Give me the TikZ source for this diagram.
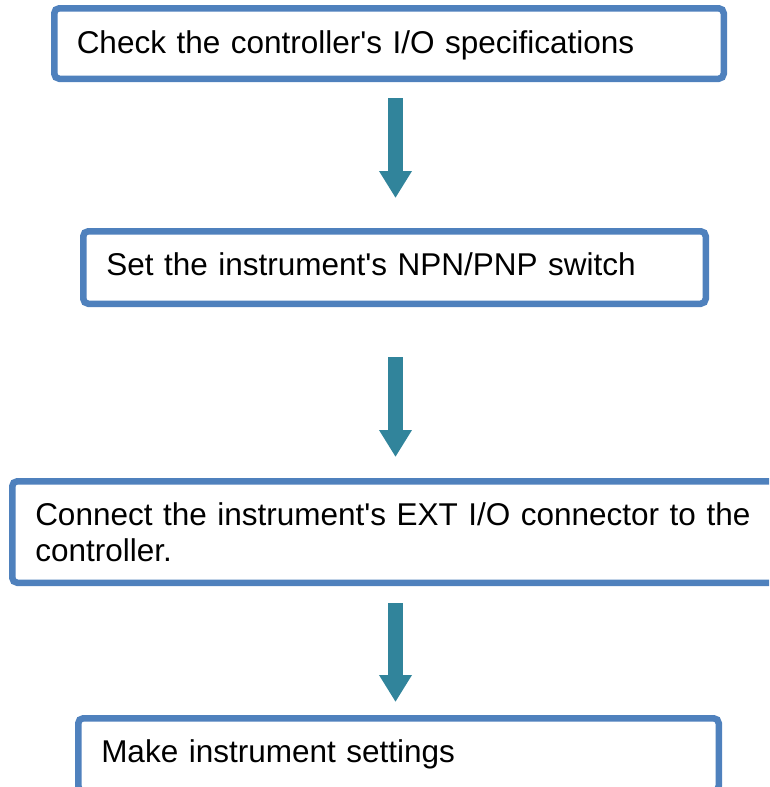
\documentclass[tikz,border=0pt]{standalone}
\usepackage{fontspec}
\setmainfont{Liberation Sans}[Ligatures=TeXOff]
\usetikzlibrary{arrows.meta}
\definecolor{boxblue}{HTML}{4F81BD}
\definecolor{arrowteal}{HTML}{31849B}
\begin{document}
\begin{tikzpicture}[x=1pt,y=-1pt,
  stepbox/.style={draw=boxblue, line width=6.5pt, rounded corners=5pt, fill=white,
    anchor=north west, outer sep=0pt, inner ysep=0pt, inner xsep=23pt, align=left,
    font=\fontsize{31.5}{36}\selectfont},
  flowarrow/.style={draw=arrowteal, line width=15.6pt, line cap=butt,
    -{Triangle[length=27pt,width=31pt]}}]
\path[use as bounding box, clip] (0,0) rectangle (769,787);

\node[stepbox, inner xsep=22.5pt, text width=624.5pt, minimum height=70.5pt,
  text height=27pt, text depth=8pt] (b1) at (54.25,8.25)
  {Check the controller's I/O specifications};
\node[stepbox, text width=576.5pt, minimum height=72.5pt,
  text height=23pt, text depth=8pt] (b2) at (83.25,231.25)
  {Set the instrument's NPN/PNP switch};
\node[stepbox, text width=730pt, minimum height=101.5pt,
  text height=24pt, text depth=38pt] (b3) at (12.25,481.25)
  {Connect the instrument's EXT I/O connector to the\\controller.};
\node[stepbox, text width=594.5pt, minimum height=72.75pt,
  text height=23pt, text depth=8pt] (b4) at (78.25,718.25)
  {Make instrument settings};

\coordinate (ax) at (395.5,0);
\draw[flowarrow, shorten <=19.25pt, shorten >=33.25pt] (b1.south -| ax) -- (b2.north -| ax);
\draw[flowarrow, shorten <=53.25pt, shorten >=24.25pt] (b2.south -| ax) -- (b3.north -| ax);
\draw[flowarrow, shorten <=20.25pt, shorten >=16.25pt] (b3.south -| ax) -- (b4.north -| ax);
\end{tikzpicture}
\end{document}
